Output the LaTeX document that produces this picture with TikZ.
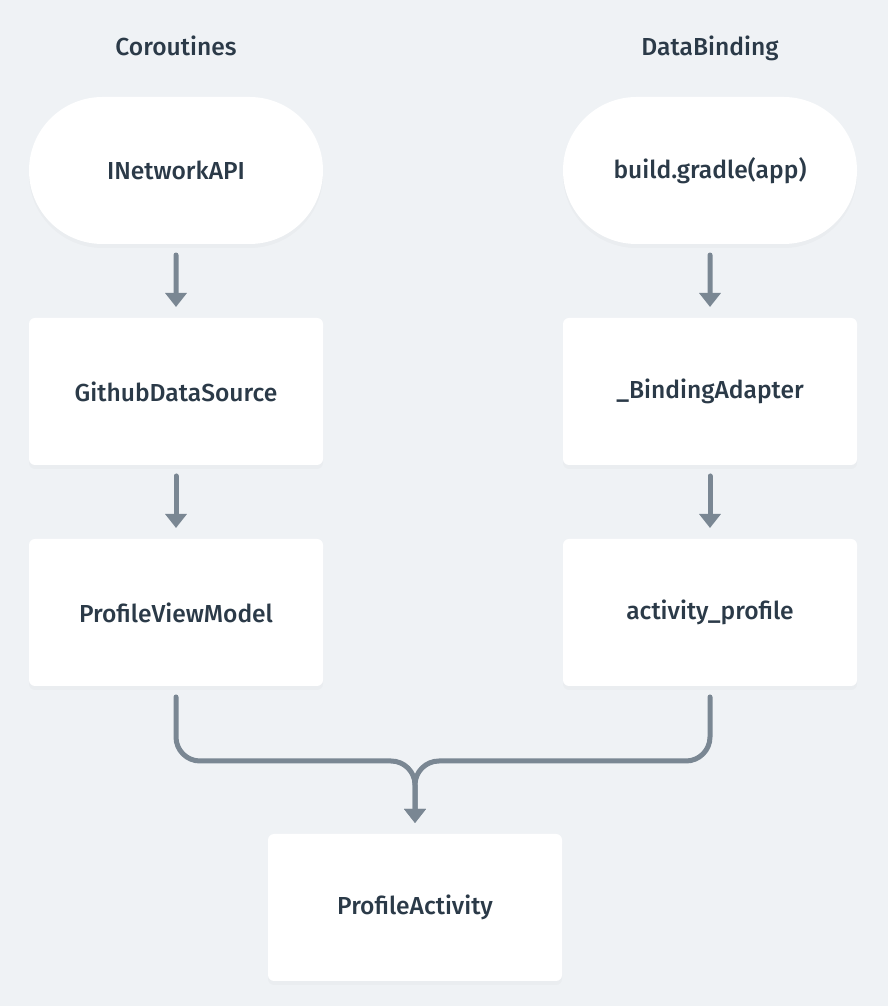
\documentclass[tikz,border=0pt]{standalone}
\usepackage{fontspec}
\setmainfont{Fira Sans Medium}
\usetikzlibrary{arrows.meta,shapes.misc,shadows}
\definecolor{bgcol}{HTML}{EFF2F5}
\definecolor{txtcol}{HTML}{2B3A48}
\definecolor{linkcol}{HTML}{7A8793}
\begin{document}
\begin{tikzpicture}[inner sep=0pt,outer sep=0pt,font=\fontsize{14}{16}\selectfont,text=txtcol,
card/.style={fill=white,rectangle,rounded corners=0.12cm,minimum width=5.88cm,minimum height=2.94cm,drop shadow={opacity=0.04,shadow xshift=0cm,shadow yshift=-0.08cm}},
pill/.style={fill=white,rounded rectangle,minimum width=5.88cm,minimum height=2.94cm,drop shadow={opacity=0.04,shadow xshift=0cm,shadow yshift=-0.08cm}},
link/.style={draw=linkcol,line width=0.1cm,line cap=round,-{Triangle[width=0.42cm,length=0.28cm]},shorten <=0.22cm,shorten >=0.22cm}]
\fill[bgcol] (0,0) rectangle (17.76,20.12);
\useasboundingbox (0,0) rectangle (17.76,20.12);
\draw (3.52,19.0) node[anchor=base] (coro) {Coroutines};
\draw (14.2,19.0) node[anchor=base] (bind) {DataBinding};
\draw (3.52,16.71) node[pill] (api) {INetworkAPI};
\draw (14.2,16.71) node[pill] (gradle) {build.gradle(app)};
\draw (3.52,12.29) node[card] (source) {GithubDataSource};
\draw (14.2,12.29) node[card] (adapter) {\_BindingAdapter};
\draw (3.52,7.87) node[card] (pvm) {ProfileViewModel};
\draw (14.2,7.87) node[card] (layout) {activity\_profile};
\draw (8.3,1.97) node[card] (act) {ProfileActivity};
\coordinate (join) at (8.3,4.9);
\draw[link] (api) -- (source);
\draw[link] (source) -- (pvm);
\draw[link] (gradle) -- (adapter);
\draw[link] (adapter) -- (layout);
\draw[link,rounded corners=0.48cm] (pvm.south) |- (join) -- (act.north);
\draw[link,rounded corners=0.48cm] (layout.south) |- (join) -- (act.north);
\end{tikzpicture}
\end{document}
